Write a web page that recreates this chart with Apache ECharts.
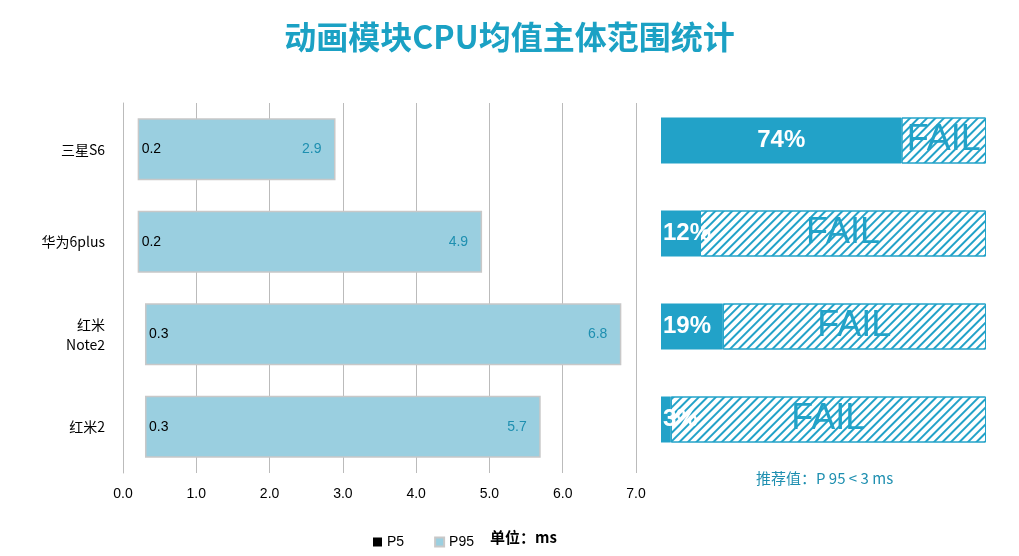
<!DOCTYPE html><html><head><meta charset="utf-8">
<script src="https://cdn.jsdelivr.net/npm/echarts@6/dist/echarts.min.js"></script>
<style>html,body{margin:0;padding:0;background:#fff}#c{width:1019px;height:556px}</style></head><body><div id="c"></div>
<script>
const categories=['三星S6','华为6plus','红米\nNote2','红米2'];
const p5=[0.2,0.2,0.3,0.3];
const p95=[2.9,4.9,6.8,5.7];
const passPct=[74,12,19,3];
const xTicks=[0,1,2,3,4,5,6,7];
const cats=categories.slice().reverse();
const r=a=>a.slice().reverse();
const P5=r(p5),P95=r(p95),PP=r(passPct);
const chart=echarts.init(document.getElementById('c'));
const blue='#22A2C8';
chart.setOption({
 animation:false,
 title:{text:'动画模块CPU均值主体范围统计',left:'center',top:16,textStyle:{color:'#1BA1C4',fontSize:32,fontWeight:'bold',fontFamily:'Noto Sans CJK SC'}},
 legend:{left:368,top:530,icon:'rect',itemWidth:9,itemHeight:9,itemGap:30,textStyle:{fontSize:14,color:'#000'},
  data:[{name:'P5',itemStyle:{color:'#000'}},{name:'P95',itemStyle:{color:'#9ACFE0'}}]},
 graphic:[{type:'text',left:490,top:530,style:{text:'单位：ms',fontSize:15,fontWeight:'bold',fill:'#000',fontFamily:'Noto Sans CJK SC'}},
  {type:'text',left:756,top:471,style:{text:'推荐值：P 95 < 3 ms',fontSize:15,fill:'#1E8FB0',fontFamily:'Noto Sans CJK SC'}}],
 grid:[{left:123,width:513,top:103,height:370},{left:661,width:325,top:94,height:372}],
 xAxis:[{gridIndex:0,type:'value',min:0,max:7,interval:1,axisLabel:{formatter:v=>v.toFixed(1),fontSize:14,color:'#000',margin:14},
   splitLine:{lineStyle:{color:'#BBBBBB'}},axisLine:{show:false},axisTick:{show:false}},
  {gridIndex:1,type:'value',min:0,max:100,show:false}],
 yAxis:[{gridIndex:0,type:'category',data:cats,axisLine:{lineStyle:{color:'#BBBBBB'}},axisTick:{show:false},axisLabel:{fontSize:14,color:'#000',margin:18,lineHeight:20,fontFamily:'Noto Sans CJK SC'}},
  {gridIndex:1,type:'category',data:cats,show:false}],
 series:[
  {name:'P5',type:'bar',stack:'a',data:P5,barWidth:62,itemStyle:{color:'transparent'},
   label:{show:true,position:'right',distance:4,color:'#000',fontSize:14,formatter:p=>p.value.toFixed(1)}},
  {name:'P95',type:'bar',stack:'a',data:P95.map((v,i)=>+(v-P5[i]).toFixed(2)),barWidth:62,
   itemStyle:{color:'#9ACFE0',borderColor:'#C8C8C8',borderWidth:1.5},
   label:{show:true,position:'insideRight',distance:14,color:'#1E8FB0',fontSize:14,formatter:p=>P95[p.dataIndex].toFixed(1)}},
  {name:'pass',type:'bar',stack:'b',xAxisIndex:1,yAxisIndex:1,barWidth:46,
   data:PP.map(v=>({value:v,label:{position:v>50?'inside':'insideLeft',distance:2}})),
   itemStyle:{color:blue},label:{show:true,color:'#fff',fontSize:24,fontWeight:'bold',formatter:p=>p.value+'%'}},
  {name:'fail',type:'bar',stack:'b',xAxisIndex:1,yAxisIndex:1,barWidth:46,
   data:PP.map(v=>100-v),
   itemStyle:{color:'#fff',borderColor:blue,borderWidth:1,decal:{symbol:'rect',symbolSize:1,dashArrayX:[1,0],dashArrayY:[2,4],rotation:-Math.PI/4,color:blue}},
   label:{show:true,position:'inside',color:blue,fontSize:36,formatter:'FAIL'}}
 ]
});
</script></body></html>
